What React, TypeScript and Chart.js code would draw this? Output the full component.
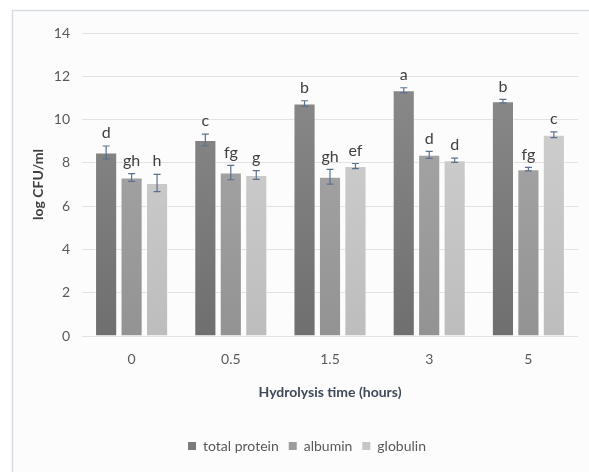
import { useEffect, useRef } from 'react';
import { Chart, registerables } from 'chart.js';

Chart.register(...registerables);

const categories = ['0', '0.5', '1.5', '3', '5'];
const seriesNames = ['total protein', 'albumin', 'globulin'];
const totalProtein = [8.48, 9.06, 10.74, 11.35, 10.85];
const albumin = [7.32, 7.55, 7.36, 8.37, 7.71];
const globulin = [7.07, 7.44, 7.85, 8.12, 9.3];
const totalProteinErr = [0.3, 0.27, 0.13, 0.12, 0.08];
const albuminErr = [0.18, 0.33, 0.34, 0.16, 0.08];
const globulinErr = [0.4, 0.2, 0.12, 0.1, 0.13];
const totalProteinLetters = ['d', 'c', 'b', 'a', 'b'];
const albuminLetters = ['gh', 'fg', 'gh', 'd', 'fg'];
const globulinLetters = ['h', 'g', 'ef', 'd', 'c'];
const yMin = 0;
const yMax = 14;
const yStep = 2;

const FONT = 'Lato, "Open Sans", sans-serif';
const solid = ['#7a7a7a', '#9d9d9d', '#c6c6c6'];
const gradTop = ['#8e8e8e', '#acacac', '#d4d4d4'];
const gradBottom = ['#6f6f6f', '#939393', '#bdbdbd'];

const errors = [totalProteinErr, albuminErr, globulinErr];
const letters = [totalProteinLetters, albuminLetters, globulinLetters];

const framePlugin = {
  id: 'frame',
  beforeDraw(chart: any) {
    const { ctx, width, height } = chart;
    if (chart.legend) {
      chart.legend.left = 25;
      chart.legend.right = width;
    }
    ctx.save();
    ctx.fillStyle = '#fcfcfd';
    ctx.fillRect(12.5, 10.5, width, height);
    ctx.strokeStyle = '#d8dce4';
    ctx.lineWidth = 1.5;
    ctx.beginPath();
    ctx.moveTo(12.5, height + 2);
    ctx.lineTo(12.5, 10.5);
    ctx.lineTo(width + 2, 10.5);
    ctx.stroke();
    ctx.restore();
  },
};

const errorPlugin = {
  id: 'errorbars',
  afterDatasetsDraw(chart: any) {
    const { ctx } = chart;
    const yScale = chart.scales.y;
    ctx.save();
    chart.data.datasets.forEach((ds: any, i: number) => {
      const meta = chart.getDatasetMeta(i);
      meta.data.forEach((bar: any, j: number) => {
        const v = ds.data[j];
        const e = errors[i][j];
        const x = bar.x;
        const yt = yScale.getPixelForValue(v + e);
        const yb = yScale.getPixelForValue(v - e);
        ctx.strokeStyle = '#5b7190';
        ctx.lineWidth = 1.2;
        ctx.beginPath();
        ctx.moveTo(x, yt);
        ctx.lineTo(x, yb);
        ctx.moveTo(x - 3.5, yt);
        ctx.lineTo(x + 3.5, yt);
        ctx.moveTo(x - 3.5, yb);
        ctx.lineTo(x + 3.5, yb);
        ctx.stroke();
        ctx.fillStyle = '#404040';
        ctx.font = '16px ' + FONT;
        ctx.textAlign = 'center';
        ctx.textBaseline = 'bottom';
        ctx.fillText(letters[i][j], x, yt - 5);
      });
    });
    ctx.restore();
  },
};

function makeGradient(i: number) {
  return (c: any) => {
    const area = c.chart.chartArea;
    if (!area) return solid[i];
    const g = c.chart.ctx.createLinearGradient(0, area.top, 0, area.bottom);
    g.addColorStop(0, gradTop[i]);
    g.addColorStop(1, gradBottom[i]);
    return g;
  };
}

export default function App() {
  const ref = useRef<HTMLCanvasElement>(null);
  useEffect(() => {
    const canvas = ref.current;
    if (!canvas) return;
    const values = [totalProtein, albumin, globulin];
    const chart = new Chart(canvas, {
      type: 'bar',
      data: {
        labels: categories,
        datasets: seriesNames.map((name, i) => ({
          label: name,
          data: values[i],
          backgroundColor: makeGradient(i),
          borderColor: 'rgba(255,255,255,0.5)',
          borderWidth: 1,
          categoryPercentage: 0.77,
          barPercentage: 0.87,
        })),
      },
      options: {
        animation: false,
        responsive: false,
        devicePixelRatio: 1,
        layout: { padding: { left: 0, right: 11, top: 33, bottom: 9 } },
        plugins: {
          tooltip: { enabled: false },
          legend: {
            position: 'bottom',
            labels: {
              font: { family: FONT, size: 14 },
              color: '#595959',
              usePointStyle: true,
              pointStyle: 'rect',
              boxWidth: 8,
              boxHeight: 8,
              padding: 10,
              generateLabels: () =>
                seriesNames.map((n, i) => ({
                  text: n,
                  fillStyle: solid[i],
                  strokeStyle: solid[i],
                  lineWidth: 0,
                  pointStyle: 'rect',
                  hidden: false,
                  datasetIndex: i,
                  fontColor: '#595959',
                })),
            },
          },
        },
        scales: {
          x: {
            grid: { display: false, drawTicks: false },
            border: { display: false },
            ticks: { font: { family: FONT, size: 14 }, color: '#595959', padding: 15 },
            title: {
              display: true,
              text: 'Hydrolysis time (hours)',
              font: { family: FONT, size: 14, weight: 'bold' },
              color: '#3f4957',
              padding: 28,
            },
            afterFit(scale: any) {
              scale.height = 93;
            },
          },
          y: {
            min: yMin,
            max: yMax,
            grid: { color: '#e2e2e2', lineWidth: 1, drawTicks: false },
            border: { display: false },
            ticks: { stepSize: yStep, font: { family: FONT, size: 14 }, color: '#595959', padding: 12 },
            title: {
              display: true,
              text: 'log CFU/ml',
              font: { family: FONT, size: 14, weight: 'bold' },
              color: '#404040',
              padding: 30,
            },
            afterFit(scale: any) {
              scale.width = 82;
            },
          },
        },
      } as any,
      plugins: [framePlugin, errorPlugin],
    });
    return () => chart.destroy();
  }, []);
  return (
    <div style={{ position: 'absolute', left: 0, top: 0, width: 589, height: 472, background: '#ffffff' }}>
      <canvas ref={ref} width={589} height={472} style={{ display: 'block' }} />
    </div>
  );
}
